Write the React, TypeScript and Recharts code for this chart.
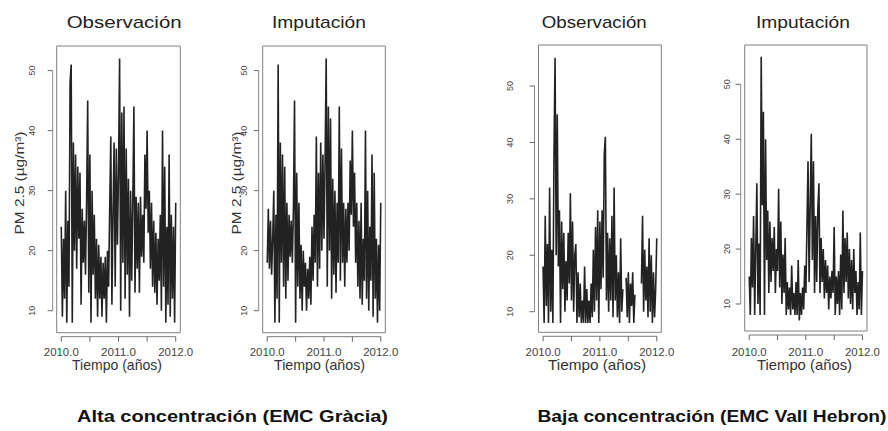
import { LineChart, Line, XAxis, YAxis, ReferenceArea, ReferenceLine } from 'recharts'

// weekly time points, 2010.0 .. 2012.0
const semanas = Array.from({ length: 105 }, (_, i) => 2010 + i / 52)
const marcasAnio = [2010, 2010.5, 2011, 2011.5, 2012]
const nivelesPM = [10, 20, 30, 40, 50]

// PM 2.5 (µg/m³)
const altaObservacion = [
  24, 9, 22, 12, 30, 8, 25, 14, 48, 51, 8, 38, 20, 36, 17, 34, 22, 33, 11, 27,
  18, 25, 16, 28, 45, 13, 36, 8, 30, 16, 26, 12, 22, 9, 21, 12, 19, 9, 18, 12,
  19, 8, 20, 14, 27, 39, 11, 26, 38, 14, 37, 21, 33, 52, 10, 43, 18, 44, 12, 37,
  16, 32, 9, 30, 15, 28, 44, 13, 29, 17, 28, 13, 29, 19, 26, 18, 36, 27, 40, 23,
  30, 17, 28, 14, 25, 13, 23, 11, 22, 15, 26, 10, 40, 14, 34, 8, 24, 11, 36, 9,
  26, 12, 24, 8, 28,
]
const altaImputacion = [
  18, 27, 17, 25, 16, 22, 30, 8, 26, 12, 51, 8, 38, 18, 36, 14, 34, 12, 28, 15,
  26, 19, 25, 18, 27, 45, 8, 33, 14, 28, 12, 21, 10, 20, 14, 18, 10, 17, 12, 19,
  11, 24, 15, 26, 18, 39, 14, 33, 17, 38, 20, 36, 22, 35, 52, 14, 44, 20, 42, 12,
  32, 16, 30, 13, 28, 18, 44, 15, 37, 18, 28, 14, 27, 18, 28, 20, 35, 26, 40, 24,
  33, 18, 28, 14, 25, 12, 28, 11, 22, 15, 40, 12, 30, 10, 24, 15, 36, 9, 33, 12,
  22, 8, 21, 10, 28,
]
const bajaObservacion: (number | null)[] = [
  18, 8, 27, 11, 22, 8, 32, 10, 21, 8, 38, 55, 20, 45, 18, 28, 8, 26, 14, 24,
  10, 19, 12, 24, 15, 31, 12, 26, 10, 20, 22, 8, 17, 9, 15, 8, 12, 8, 18, 8,
  14, 8, 12, 8, 15, 9, 21, 10, 25, 12, 28, 8, 26, 14, 28, 16, 38, 41, 12, 24,
  10, 23, 12, 27, 9, 32, 12, 20, 9, 17, 8, 23, 10, 14, null, null, 16, 9, 17, 8,
  15, 11, 17, 8, 13, null, null, null, null, null, 15, 27, 10, 21, 12, 18, 9, 23, 10, 20,
  8, 17, 9, 14, 23,
]
const bajaImputacion = [
  15, 8, 22, 13, 26, 8, 20, 32, 10, 21, 8, 55, 28, 45, 8, 40, 18, 27, 12, 25,
  14, 22, 16, 24, 12, 20, 16, 31, 13, 25, 10, 19, 12, 22, 8, 14, 9, 13, 8, 17,
  9, 12, 8, 14, 8, 18, 7, 12, 8, 13, 9, 17, 12, 24, 36, 14, 28, 41, 18, 36,
  12, 26, 14, 27, 32, 12, 22, 14, 20, 11, 18, 12, 17, 9, 15, 11, 16, 12, 24, 8,
  15, 10, 16, 8, 19, 9, 27, 12, 22, 14, 23, 11, 20, 10, 18, 9, 20, 12, 16, 8,
  14, 9, 23, 8, 16,
]

const titulos = ['Observación', 'Imputación', 'Observación', 'Imputación']
const ejeY = 'PM 2.5 (µg/m³)'
const ejeX = 'Tiempo (años)'
const subtitulos = ['Alta concentración (EMC Gràcia)', 'Baja concentración (EMC Vall Hebron)']

const W = 888
const H = 431
const FONT = 'Liberation Sans, Arial, sans-serif'
const X_BOX: [number, number] = [2009.92, 2012.08]
const OFF = 4
const AXIS = 24 // room reserved for the axes inside the chart

const panels = [
  { values: altaObservacion, left: 56.7, right: 180.3, top: 46, bottom: 332.7, y: [6.33, 54.1], tickX: 32.5, title: [124.2, 115], xlab: [117, 90], ylab: 19.5 },
  { values: altaImputacion, left: 262.7, right: 385.3, top: 46, bottom: 332.7, y: [6.33, 54.1], tickX: 244, title: [319, 94], xlab: [319.5, 91], ylab: 236 },
  { values: bajaObservacion, left: 538.5, right: 661.3, top: 45, bottom: 332.3, y: [6.35, 57.27], tickX: 510.5, title: [594.2, 105], xlab: [597, 98], ylab: null },
  { values: bajaImputacion, left: 744.7, right: 867, top: 45, bottom: 331, y: [5.08, 57.16], tickX: 727.5, title: [803, 94], xlab: [804.5, 95], ylab: null },
]

function XTick(props: any) {
  const { x, payload, labelY } = props
  if (payload.value % 1 !== 0) return <g />
  return (
    <text x={x} y={labelY} textAnchor="middle" fontSize={10} fill="#444" fontFamily={FONT}
      textLength={35} lengthAdjust="spacingAndGlyphs">
      {payload.value.toFixed(1)}
    </text>
  )
}

function YTick(props: any) {
  const { y, payload, labelX } = props
  return (
    <text x={labelX} y={y} transform={`rotate(-90 ${labelX} ${y})`} textAnchor="middle"
      dominantBaseline="central" fontSize={9} fill="#444" fontFamily={FONT}>
      {payload.value}
    </text>
  )
}

function Panel({ p }: { p: (typeof panels)[number] }) {
  const [x0, x1] = X_BOX
  const [y0, y1] = p.y
  const xLo = x0 - OFF / ((p.right - p.left) / (x1 - x0))
  const yLo = y0 - OFF / ((p.bottom - p.top) / (y1 - y0))
  const data = semanas.map((t, i) => ({ t, v: p.values[i] }))
  return (
    <div style={{ position: 'absolute', left: 0, top: 0 }}>
      <LineChart width={W} height={H} data={data}
        margin={{ left: p.left - OFF - AXIS, right: W - p.right, top: p.top, bottom: H - p.bottom - OFF - AXIS }}>
        <XAxis dataKey="t" type="number" domain={[xLo, x1]} ticks={marcasAnio} interval={0}
          allowDataOverflow height={AXIS} axisLine={false} tickLine={{ stroke: '#666' }} tickSize={5}
          tick={<XTick labelY={355.5} />} />
        <YAxis type="number" domain={[yLo, y1]} ticks={nivelesPM} interval={0}
          allowDataOverflow width={AXIS} axisLine={false} tickLine={{ stroke: '#666' }} tickSize={5}
          tick={<YTick labelX={p.tickX} />} />
        <ReferenceLine segment={[{ x: 2010, y: yLo }, { x: 2012, y: yLo }]} stroke="#777" />
        <ReferenceLine segment={[{ x: xLo, y: 10 }, { x: xLo, y: 50 }]} stroke="#888" />
        <Line dataKey="v" stroke="#222" strokeWidth={1.6} strokeLinejoin="miter" dot={false}
          isAnimationActive={false} connectNulls={false} />
        <ReferenceArea x1={x0} x2={x1} y1={y0} y2={y1} fill="none" stroke="#808080" strokeOpacity={1} />
      </LineChart>
    </div>
  )
}

export default function App() {
  return (
    <div style={{ position: 'absolute', left: 0, top: 0, width: W, height: H, background: '#fff' }}>
      {panels.map((p, i) => <Panel key={i} p={p} />)}
      <svg width={W} height={H} style={{ position: 'absolute', left: 0, top: 0 }} fontFamily={FONT}>
        {panels.map((p, i) => (
          <g key={i}>
            <text x={p.title[0]} y={28} textAnchor="middle" fontSize={17} fill="#222"
              textLength={p.title[1]} lengthAdjust="spacingAndGlyphs">{titulos[i]}</text>
            <text x={p.xlab[0]} y={370} textAnchor="middle" fontSize={15} fill="#333"
              textLength={p.xlab[1]} lengthAdjust="spacingAndGlyphs">{ejeX}</text>
            {p.ylab !== null && (
              <text x={p.ylab} y={183} transform={`rotate(-90 ${p.ylab} 183)`} textAnchor="middle"
                dominantBaseline="central" fontSize={13} fill="#333" textLength={103}
                lengthAdjust="spacingAndGlyphs">{ejeY}</text>
            )}
          </g>
        ))}
        <text x={232.5} y={422} textAnchor="middle" fontSize={17} fontWeight="bold" fill="#111"
          textLength={311} lengthAdjust="spacingAndGlyphs">{subtitulos[0]}</text>
        <text x={712} y={422} textAnchor="middle" fontSize={17} fontWeight="bold" fill="#111"
          textLength={349} lengthAdjust="spacingAndGlyphs">{subtitulos[1]}</text>
      </svg>
    </div>
  )
}
